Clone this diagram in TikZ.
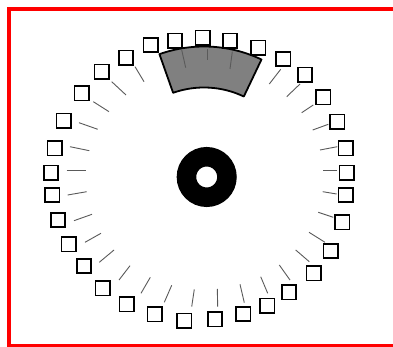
\documentclass[tikz,border=0pt]{standalone}
\usepackage{xcolor}
\usetikzlibrary{calc}
\definecolor{framered}{HTML}{FF0000}
\definecolor{tickgray}{HTML}{5A5A5A}
\definecolor{padgray}{HTML}{808080}

\begin{document}
\begin{tikzpicture}[x=1pt,y=1pt,
  sq/.style={draw,line width=1.6pt,fill=white,minimum size=14.4pt,inner sep=0pt},
  tk/.style={draw=tickgray,line width=0.9pt},
  hub/.style={circle,draw,line width=19.5pt,minimum size=40.5pt,inner sep=0pt,outer sep=0pt}]
  \useasboundingbox (0,0) rectangle (393,347);
  \draw[framered,line width=4pt] (8.8,337.5) rectangle (400,0.7);
  \foreach \ax/\ay/\bx/\by in {
    135/280.3/144/265.3, 111.7/265.3/126/252, 93.3/245.3/109/235.3, 79/224.3/97.7/217.7,
    70/200.3/89.3/196.3, 66.7/176.7/86/176.7, 67.7/152/86.7/155.3, 74/126.3/92/132.7,
    85/104.7/101/113.7, 99.3/84.7/114/97, 119/67/130/81.3, 141/53.7/150.3/69.7,
    164.3/44.7/171.7/61.7, 191.7/40.3/194.3/57.7, 217.7/40.3/217.3/58, 244.3/44.3/240/62.7,
    267.7/53.7/260.7/70.3, 290/67/279.3/82, 309.3/85.3/295.7/97, 325/104.7/309/114.7,
    333.3/129.7/318.3/134.7, 336.7/153/322.7/155.3, 337.3/176.7/323.3/176.7, 337.3/200.3/320/197,
    328.3/222.7/312.7/217, 313.3/242/301.7/234.3, 300/263/286.7/250.3, 280.7/277.7/269.3/263}
    {\draw[tk] (\ax,\ay) -- (\bx,\by);}
  \coordinate (c) at (204,167);
  \draw[fill=padgray,line width=1.8pt,line join=round]
    ($(c)+(109.5:133.5)$) arc[start angle=109.5,end angle=64.5,radius=133.5]
    -- ($(c)+(64.5:92.5)$) arc[start angle=64.5,end angle=109.5,radius=92.5] -- cycle;
  \foreach \ax/\ay/\bx/\by in {181.7/297/185.7/279.3, 207.3/297.7/207.3/287, 232.3/295.3/230/278}
    {\draw[tk] (\ax,\ay) -- (\bx,\by);}
  \foreach \i/\x/\y in {
    1/150.7/302, 2/175/306.3, 3/202.7/309.3, 4/230/306.3, 5/258.3/299.3, 6/283.3/288,
    7/305/272.3, 8/323.3/249.7, 9/337.3/225.3, 10/345.7/198.7, 11/346.7/174.3, 12/345.7/152,
    13/342.3/124.7, 14/330.7/96, 15/313.7/73.7, 16/289/54.7, 17/267.3/41.3, 18/243.3/33,
    19/215/27.7, 20/184.3/26.3, 21/154.7/32.7, 22/126.7/42.7, 23/102.7/58.7, 24/84/81,
    25/68.7/102.7, 26/58/127, 27/52.3/152, 28/51/174.3, 29/54.7/198.7, 30/63.7/226.3,
    31/81.7/253.7, 32/101.7/275.3, 33/126/289.3}
    {\node[sq] (s\i) at (\x,\y) {};}
  \node[hub] (hub) at (206.7,170) {};
\end{tikzpicture}
\end{document}
